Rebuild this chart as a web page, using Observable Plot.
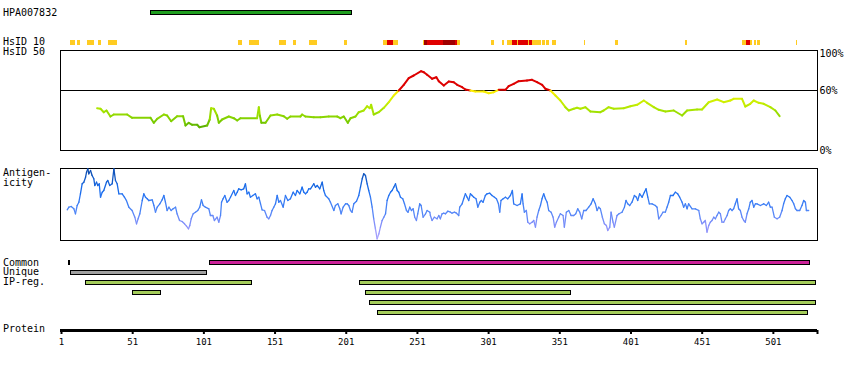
<!DOCTYPE html>
<html><head><meta charset="utf-8">
<script src="https://cdn.jsdelivr.net/npm/d3@7"></script>
<script src="https://cdn.jsdelivr.net/npm/@observablehq/plot@0.6"></script>
<style>
body{margin:0;background:#fff;}
#chart{position:relative;width:850px;height:370px;font-family:"DejaVu Sans Mono",monospace;font-size:10px;color:#000;}
#chart svg{position:absolute;left:0;}
.lab{position:absolute;left:3px;line-height:12px;white-space:pre;}
</style></head><body><div id="chart"></div>
<script>
// ---------- data ----------
const proteinLength = 532;
const antigenName = "HPA007832";
const antigenStart = [64];
const antigenEnd = [205];

// HsID 10 identity blocks (residue ranges) and level
const hs10Start = [7,12,19,27,34,125,133,154,164,175,200,227,230,234,255,256,258,269,278,279,303,311,314,318,321,322,329,330,332,339,342,346,368,390,439,479,482,485,488,490,517];
const hs10End   = [11,14,24,29,40,128,140,159,166,181,202,230,234,238,256,258,269,278,279,281,305,312,318,321,322,329,330,332,338,341,344,349,369,392,441,482,485,486,489,492,518];
const hs10Level = ["low","low","low","low","low","low","low","low","low","low","low","low","mid","low","low","high","mid","high","mid","low","low","low","low","mid","low","mid","low","mid","low","low","low","low","low","low","low","low","mid","low","low","low","low"];

// HsID 50 sliding identity (%)
const hsidPos = [26,28.4,30.7,32.6,35.4,37.7,47.1,50.6,63.5,65.8,
68.2,72.9,75.2,78,82.2,86.4,88.1,90.4,92.8,96.3,
97.9,103.3,105.1,106.1,108,110.3,111.5,113.8,118.5,122,
124.4,126.7,138.4,139.6,140.3,141.4,144.3,147.8,152.5,157.1,
159.5,161.8,168.8,170,172.3,178.2,182.9,188.7,194.6,196.9,
199.3,202.1,204,207.5,209.8,213.3,215.7,217.5,218.5,220.3,
223.8,227.4,230.9,234.4,237.9,241.4,244.9,248.4,253.6,255.5,
257.8,261.3,264.3,266,269.5,273,276.5,278.9,282.4,284.7,
288.2,291.7,297.6,301.1,304.6,308.1,312.8,315.1,318.6,322.1,
328,331.5,335,338.6,340.9,344.4,347.9,351.4,354.9,357.3,
360.8,363.1,365.5,369,372.5,379.5,381.8,385.3,388.9,395.9,
400.6,405.3,410,412.3,417,420.5,425.2,431,436.9,440.4,
447.4,450.9,455.6,461.5,466.1,470.8,473.1,479,481.3,484.8,
487.2,490.7,494.2,498.9,502.4,505.4];
const hsidVal = [42.3,41.7,38.3,40,34,36,36,32.7,32.7,27.7,
31.7,36,35,29.3,34.3,34.3,25,27.7,25.7,25.7,
23.3,25,31,42.3,41.7,35,27.7,31,34,32.3,
30,32.3,32.3,43.3,35,27.7,27.7,35,36,34.3,
31.7,34,34,36,34,33.3,33.3,34,34,32.3,
34,27.7,32.3,34,38.3,40,44.3,42.3,45.7,36,
38.3,42.7,48.3,55,60,65.7,72.3,75,79.3,78.3,
75.7,71.7,73.3,69.3,65,69,68.3,65.7,63.3,61,
60,59,59,57.3,58.3,60.7,60.7,64.3,66.7,69.3,
70,70.7,68.3,65.7,61.7,60,55,50,43.3,40,
41.7,42.7,41.7,43.3,39,38.3,40,43.3,41.7,42.3,
44.3,45.7,50,47.7,43.3,40.7,39,40,35,40,
41,41,48.3,51,48.3,50,51.7,51.7,44,46.7,
50,47.7,46.7,43.3,40,34.3];
const hsidTicks = [100, 60, 0];

// Antigenicity profile
const antiPos = [5.0,6.2,7.8,9.7,10.8,12.0,13.2,14.3,15.5,16.7,
17.9,18.6,19.5,20.2,21.4,22.5,23.7,24.4,25.6,26.5,
27.5,28.4,29.6,30.7,32.6,33.5,34.9,36.6,37.8,38.9,
40.1,41.3,43.6,45.2,46.6,48.3,50.6,52.5,53.7,54.8,
56.0,57.7,58.8,60.0,61.2,62.3,64.7,65.9,67.0,68.2,
70.1,71.7,72.9,74.0,75.2,76.4,78.0,79.4,81.1,82.2,
83.9,85.7,87.4,88.8,90.2,91.1,92.1,93.5,95.1,96.7,
98.1,99.3,100.5,102.1,104.5,105.6,107.3,108.4,110.3,111.5,
112.7,113.4,114.5,115.7,117.3,118.5,119.7,122.0,123.2,124.4,
125.5,127.2,129.0,130.2,131.4,132.6,133.7,135.4,137.2,138.4,
139.6,140.8,141.9,143.6,145.4,146.6,147.8,148.9,150.1,151.3,
152.5,153.6,154.8,156.7,158.3,160.0,161.8,163.7,165.3,166.5,
168.4,170.0,171.2,172.4,173.5,174.7,175.9,178.2,179.4,180.6,
182.4,184.1,185.2,186.4,188.7,189.9,192.3,193.4,195.1,196.5,
197.4,198.8,200.5,201.6,202.8,204.0,205.1,206.3,208.2,209.8,
211.0,212.2,213.3,214.5,215.7,216.8,218.0,219.2,220.3,221.5,
222.7,223.9,225.0,226.2,227.4,228.6,229.7,230.9,232.1,233.2,
234.4,235.6,236.8,237.9,239.1,240.7,241.9,243.3,244.4,245.6,
246.8,248.0,249.1,250.3,251.2,252.6,253.6,255.0,256.7,257.8,
259.7,260.1,261.3,262.9,264.8,266.0,267.1,268.3,269.5,270.7,
272.3,274.2,275.3,277.0,278.4,280.0,280.7,282.4,283.5,284.7,
285.9,287.0,288.2,289.4,290.6,292.2,293.4,294.8,295.9,297.1,
298.7,299.9,301.8,303.4,305.1,306.5,307.9,308.8,309.7,311.2,
312.8,314.4,316.3,317.7,318.6,321.0,323.3,324.5,325.2,326.1,
327.5,328.5,329.9,331.5,332.7,333.9,335.0,336.2,337.4,338.5,
339.7,340.9,342.1,343.2,344.9,346.3,347.4,348.6,350.2,351.4,
353.3,354.2,355.6,357.3,358.9,360.8,362.2,363.6,365.0,366.4,
367.8,369.4,371.3,373.0,374.4,376.0,377.2,378.3,379.5,380.9,
382.3,383.7,384.7,386.1,387.0,388.4,389.3,391.2,392.6,394.7,
396.4,397.5,398.7,400.1,401.7,403.4,404.8,405.7,407.1,408.8,
410.4,411.6,412.8,413.9,415.8,418.1,419.3,420.5,422.1,423.5,
425.1,426.3,427.5,428.7,430.5,432.2,433.8,435.2,436.9,438.0,
439.2,440.4,441.5,443.9,446.2,448.6,449.7,450.9,452.1,453.2,
454.4,455.6,456.7,457.9,459.1,460.3,461.4,462.6,463.8,464.9,
466.1,467.3,468.5,469.6,470.8,472.0,473.1,474.3,475.5,476.6,
477.8,479.0,480.2,481.3,482.5,483.7,484.8,486.0,487.2,488.4,
489.5,491.9,494.2,496.1,497.7,498.9,500.1,501.7,503.6,505.4,
507.1,508.2,509.4,510.6,512.5,514.1,515.3,516.5,517.6,519.5,
521.1,522.3,523.5,524.2,525.8];
const antiVal = [30.7,33.3,34,31.7,26.7,35,38.3,46.7,56.7,58.3,
63.3,68.3,71.7,66.7,70,65,61.7,55,58.3,55,
56.7,43.3,48.3,50,58.3,60,55,56.7,71.7,60,
56.7,46.7,46.7,43.3,40,33.3,30,23.3,16.7,21.7,
26.7,40,46.7,43.3,41.7,40,40.7,35,28.3,33.3,
36.7,40.7,45,38.3,30,33.3,30,31.7,33.3,26.7,
20,19,16.7,14.3,11.7,15,21.7,26.7,28.3,30,
33.3,40.7,35,33.3,31.7,25,25,20,23.3,18.3,
25,38.3,41.7,45,38.3,40,43.3,50,45,48.3,
51.7,50.7,51.7,56.7,46.7,48.3,43.3,45,46.7,41.7,
43.3,36.7,30.7,30,23.3,21.7,25,30,33.3,36.7,
45,38.3,40,33.3,45,40,41.7,48.3,45,50,
46.7,53.3,48.3,46.7,48.3,51.7,51.7,56.7,53.3,55,
51.7,58.3,50,45,41.7,38.3,30,35,36.7,31.7,
26.7,33.3,36.7,36.7,35,30,28.3,36.7,39.3,45,
53.3,61.7,66.7,65,56.7,50,43.3,33.3,21.7,11.7,
1.7,6.7,13.3,20,23.3,26.7,40,45,48.3,50,
53.3,56.7,50,48.3,43.3,41.7,36.7,30,28.3,33.3,
30,31.7,23.3,20,26.7,36.7,35,23.3,26.7,30,
28.3,25,20,23.3,21.7,25,21.7,26.7,27.3,26.7,
29.3,28.3,27.3,28.3,27.3,25,33.3,36.7,41.7,46.7,
43.3,40,46.7,45,43.3,41.7,33.3,38.3,40,38.3,
45,46.7,47.3,45,43.3,41.7,36.7,28.3,40,41.7,
43.3,41.7,45,50,36.7,35,36.7,46.7,36.7,28.3,
30,18.3,16.7,18.3,20,13.3,23.3,30,35,41.7,
46.7,41.7,38.3,30,28.3,23.3,13.3,18.3,23.3,26.7,
25,13.3,28.3,30,25,25,26.7,31.7,28.3,21.7,
30,30,33.3,36.7,41.7,36.7,30,33.3,31.7,23.3,
16.7,15,10,13.3,28.3,18.3,13.3,25,26.7,28.3,
33.3,40,36.7,35,38.3,45,43.3,40,46.7,43.3,
48.3,51.7,43.3,36.7,36.7,35,33.3,21.7,25,28.3,
28.3,33.3,38.3,45,45,48.3,46.7,43.3,38.3,33.3,
36.7,31.7,36.7,31.7,31.7,30,21.7,16.7,18.3,20,
8.3,15,18.3,20,23.3,21.7,25,28.3,26.7,18.3,
18.3,21.7,25,30,31.7,30,31.7,36.7,41.7,31.7,
30,23.3,20,18.3,26.7,31.7,38.3,40,33.3,36.7,
36.7,35,36.7,35,38.3,33.3,33.3,23.3,21.7,23.3,
30,36.7,41.7,45,43.3,40,36.7,31.7,30,30,
35,40,38.3,30,30];

// Common / Unique / IP-reg. regions
const regionType  = ["Common","Common","Unique","IP-reg.","IP-reg.","IP-reg.","IP-reg.","IP-reg.","IP-reg."];
const regionRow   = [0,0,1,2,2,3,3,4,5];
const regionStart = [6,105,8,18,211,51,215,218,223];
const regionEnd   = [7,527,103,135,531,71,359,531,525];

// Protein axis
const tickPos = [1,51,101,151,201,251,301,351,401,451,501];
const tickLabels = ["1","51","101","151","201","251","301","351","401","451","501"];

// ---------- drawing ----------
const chart = document.getElementById("chart");
const font = '"DejaVu Sans Mono", monospace';
const xScale = {domain: [1, proteinLength], range: [61, 817], axis: null};
const base = {width: 850, marginLeft: 60, marginRight: 33,
  style: {background: "none", fontFamily: font, fontSize: "10px", overflow: "visible", color: "black"}};
function place(svg, top) { svg.style.top = top + "px"; chart.appendChild(svg); }
function segments(pos, val) {
  const n = Math.min(pos.length, val.length);
  return d3.range(n - 1).map(i => ({x1: pos[i], y1: val[i], x2: pos[i + 1], y2: val[i + 1], v: (val[i] + val[i + 1]) / 2}));
}

// Top: antigen bar + HsID 10
place(Plot.plot({...base, height: 46, marginTop: 0, marginBottom: 0,
  x: xScale,
  y: {type: "band", domain: ["antigen", "hsid10"], range: [0, 46], padding: 0, axis: null},
  color: {domain: ["low", "mid", "high"], range: ["#ffcc22", "#e00000", "#a00000"]},
  marks: [
    Plot.barX(d3.range(antigenStart.length), {x1: i => antigenStart[i], x2: i => antigenEnd[i], y: () => "antigen",
      fill: "#1f9e1f", stroke: "black", strokeWidth: 1, insetTop: 10, insetBottom: 9, shapeRendering: "crispEdges"}),
    Plot.barX(d3.range(hs10Start.length), {x1: i => hs10Start[i], x2: i => hs10End[i], y: () => "hsid10",
      fill: i => hs10Level[i], insetTop: 16.5, insetBottom: 1.5, shapeRendering: "crispEdges"})
  ]}), 0);

// HsID 50 panel
place(Plot.plot({...base, height: 114, marginTop: 4, marginBottom: 10,
  x: xScale,
  y: {domain: [0, 100], axis: null},
  color: {type: "linear", domain: [20, 30, 40, 50, 59.99, 60, 100],
    range: ["#4aa000", "#7acc00", "#a6e400", "#d2f000", "#ffee00", "#dd0000", "#dd0000"], interpolate: "rgb"},
  marks: [
    Plot.frame({stroke: "black"}),
    Plot.ruleY([60], {stroke: "black"}),
    Plot.link(segments(hsidPos, hsidVal), {x1: "x1", y1: "y1", x2: "x2", y2: "y2", stroke: "v", strokeWidth: 2, strokeLinecap: "round"}),
    Plot.text(hsidTicks.filter(d => d === 100), {y: d => d, text: d => d + "%", frameAnchor: "right", textAnchor: "start", dx: 2, dy: 3, fill: "black"}),
    Plot.text(hsidTicks.filter(d => d !== 100), {y: d => d, text: d => d + "%", frameAnchor: "right", textAnchor: "start", dx: 2, fill: "black"})
  ]}), 46);

// Antigenicity panel
place(Plot.plot({...base, height: 85, marginTop: 8, marginBottom: 5,
  x: xScale,
  y: {domain: [0, 72], axis: null},
  color: {type: "linear", domain: [0, 15, 30, 50, 72],
    range: ["#b4a8ff", "#8890fa", "#4f86f7", "#1a6ef0", "#0c4aa8"], interpolate: "rgb"},
  marks: [
    Plot.frame({stroke: "black"}),
    Plot.link(segments(antiPos, antiVal), {x1: "x1", y1: "y1", x2: "x2", y2: "y2", stroke: "v", strokeWidth: 1.3, strokeLinecap: "round"})
  ]}), 160);

// Regions
place(Plot.plot({...base, height: 75, marginTop: 0, marginBottom: 0,
  x: xScale,
  y: {type: "band", domain: d3.range(6), range: [0, 74], paddingInner: 0.6, paddingOuter: 1, axis: null},
  color: {domain: ["Common", "Unique", "IP-reg."], range: ["#cc2299", "#a0a0a0", "#a4cc5a"]},
  marks: [
    Plot.barX(d3.range(regionStart.length), {x1: i => regionStart[i], x2: i => regionEnd[i], y: i => regionRow[i],
      fill: i => regionType[i], stroke: "black", strokeWidth: 1, shapeRendering: "crispEdges"})
  ]}), 250);

// Protein axis
place(Plot.plot({...base, height: 40, marginTop: 10, marginBottom: 26,
  x: xScale,
  y: {domain: [0, 1], axis: null},
  marks: [
    Plot.ruleY([1], {stroke: "black", strokeWidth: 3}),
    Plot.ruleX([...tickPos, proteinLength], {x: d => d, y1: 1, y2: 0, stroke: "black", strokeWidth: 2}),
    Plot.text(tickPos, {x: d => d, y: 0, dy: 8, text: (d, i) => tickLabels[i], fontSize: 9, fill: "black"})
  ]}), 320);

// Row labels
const labelText = [antigenName, "HsID 10", "HsID 50", "Antigen-", "icity", "Common", "Unique", "IP-reg.", "Protein"];
const labelY = [13, 42, 52, 173, 183, 262.5, 272, 282, 329];
labelText.forEach((t, i) => {
  const div = document.createElement("div");
  div.className = "lab";
  div.textContent = t;
  div.style.top = (labelY[i] - 6) + "px";
  chart.appendChild(div);
});
</script></body></html>
